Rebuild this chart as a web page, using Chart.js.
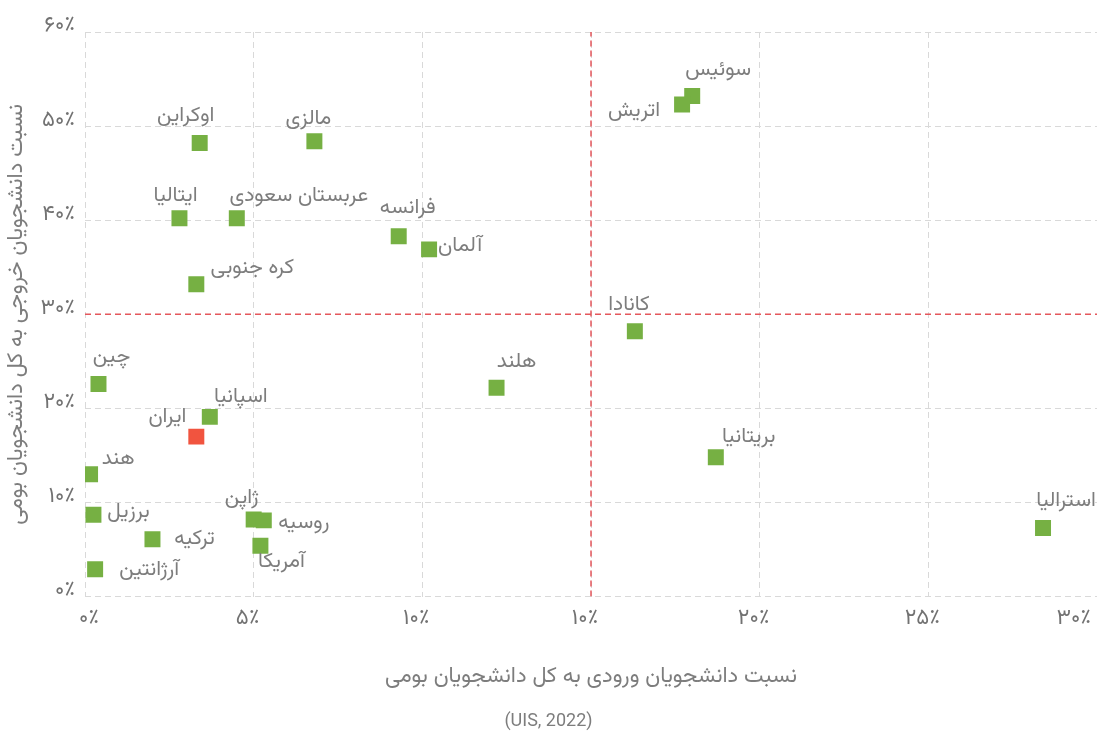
<!DOCTYPE html>
<html lang="fa">
<head>
<meta charset="utf-8">
<script src="https://cdn.jsdelivr.net/npm/chart.js@4.4.1/dist/chart.umd.min.js"></script>
<style>
  html, body { margin: 0; padding: 0; background: #ffffff; }
  #wrap { width: 1097px; height: 734px; }
</style>
</head>
<body>
<div id="wrap"><canvas id="chart" width="1097" height="734"></canvas></div>
<script>
// Countries and their student mobility ratios (percent of domestic students)
const countries = [
  'اوکراین', 'مالزی', 'ایتالیا', 'عربستان سعودی', 'کره جنوبی', 'فرانسه',
  'آلمان', 'سوئیس', 'اتریش', 'کانادا', 'هلند', 'بریتانیا', 'استرالیا',
  'چین', 'اسپانیا', 'ایران', 'هند', 'برزیل', 'ترکیه', 'آرژانتین',
  'ژاپن', 'روسیه', 'آمریکا'
];
// inbound students / domestic students (%)
const inboundShare = [
  3.4, 6.8, 2.8, 4.5, 3.3, 9.3,
  10.2, 18.0, 17.7, 16.3, 12.2, 18.7, 28.4,
  0.4, 3.7, 3.3, 0.15, 0.25, 2.0, 0.3,
  5.0, 5.3, 5.2
];
// outbound students / domestic students (%)
const outboundShare = [
  48.2, 48.4, 40.2, 40.2, 33.2, 38.3,
  36.9, 53.2, 52.3, 28.2, 22.2, 14.8, 7.3,
  22.6, 19.1, 17.0, 13.0, 8.7, 6.1, 2.9,
  8.2, 8.1, 5.4
];
const highlightedCountry = 'ایران';

const xTickLabels = ['۰٪', '۵٪', '۱۰٪', '۱۰٪', '۲۰٪', '۲۵٪', '۳۰٪'];
const yTickLabels = ['۰٪', '۱۰٪', '۲۰٪', '۳۰٪', '۴۰٪', '۵۰٪', '۶۰٪'];

const inboundThreshold = 15;
const outboundThreshold = 30;

// where each country name sits relative to its marker (dx, dy in px)
const nameShift = {
  'اوکراین': [-14, -25], 'مالزی': [-6, -20], 'ایتالیا': [-4, -21],
  'عربستان سعودی': [62, -21], 'کره جنوبی': [56, -14], 'فرانسه': [9, -26],
  'آلمان': [31, -2], 'سوئیس': [26, -24], 'اتریش': [-48, 8],
  'کانادا': [-6, -25], 'هلند': [20, -24], 'بریتانیا': [33, -19],
  'استرالیا': [23, -25], 'چین': [13, -25], 'اسپانیا': [31, -18],
  'ایران': [-29, -18], 'هند': [28, -14], 'برزیل': [35, -1],
  'ترکیه': [42, 2], 'آرژانتین': [54, 2], 'ژاپن': [-12, -20],
  'روسیه': [40, 4], 'آمریکا': [21, 18]
};

const FA_FONT = 'Vazirmatn, "DejaVu Sans", sans-serif';
const GREEN = '#76b043';
const RED = '#f1543f';
const TEXT_GREY = '#7d7d7d';

const points = countries.map((c, i) => ({ x: inboundShare[i], y: outboundShare[i] }));
const pointColors = countries.map(c => c === highlightedCountry ? RED : GREEN);

const countryNames = {
  id: 'countryNames',
  afterDatasetsDraw(chart) {
    const meta = chart.getDatasetMeta(0);
    const ctx = chart.ctx;
    ctx.save();
    ctx.font = '21px ' + FA_FONT;
    ctx.fillStyle = TEXT_GREY;
    ctx.textAlign = 'center';
    ctx.textBaseline = 'middle';
    meta.data.forEach((el, i) => {
      const s = nameShift[countries[i]] || [0, -22];
      ctx.fillText(countries[i], el.x + s[0], el.y + s[1]);
    });
    ctx.restore();
  }
};

const GRID_GREY = '#d9d9d9';

new Chart(document.getElementById('chart'), {
  type: 'scatter',
  data: {
    datasets: [
      {
        data: points,
        pointStyle: 'rect',
        pointRadius: 11.3,
        pointHoverRadius: 11.3,
        pointBorderWidth: 0,
        borderWidth: 0,
        backgroundColor: pointColors,
        pointBackgroundColor: pointColors,
        order: 0
      },
      {
        data: [{ x: inboundThreshold, y: 0 }, { x: inboundThreshold, y: 60 }],
        showLine: true,
        borderColor: '#e4575c',
        borderWidth: 1.5,
        borderDash: [6, 4],
        pointRadius: 0,
        order: 1
      },
      {
        data: [{ x: 0, y: outboundThreshold }, { x: 30, y: outboundThreshold }],
        showLine: true,
        borderColor: '#e4575c',
        borderWidth: 1.5,
        borderDash: [6, 4],
        pointRadius: 0,
        order: 1
      }
    ]
  },
  options: {
    responsive: false,
    devicePixelRatio: 1,
    animation: false,
    events: [],
    layout: { autoPadding: false, padding: { top: 32, right: 0, bottom: 2, left: 0 } },
    plugins: {
      legend: { display: false },
      tooltip: { enabled: false },
      subtitle: {
        display: true,
        position: 'bottom',
        text: '(UIS, 2022)',
        color: TEXT_GREY,
        font: { family: 'Roboto, sans-serif', size: 18, weight: 'normal' },
        padding: { top: 19, bottom: 0 }
      }
    },
    scales: {
      x: {
        type: 'linear',
        min: 0, max: 30,
        grid: {
          color: GRID_GREY, lineWidth: 1, borderDash: [6, 4],
          drawTicks: true, tickLength: 11, tickColor: 'rgba(0,0,0,0)'
        },
        border: { display: false, dash: [6, 4] },
        ticks: {
          stepSize: 5,
          padding: 0,
          align: 'inner',
          labelOffset: -6,
          color: '#727272',
          font: { family: FA_FONT, size: 22 },
          callback: (v) => xTickLabels[Math.round(v / 5)]
        },
        title: {
          display: true,
          text: 'نسبت دانشجویان ورودی به کل دانشجویان بومی',
          color: TEXT_GREY,
          font: { family: FA_FONT, size: 22 },
          padding: { top: 31, bottom: 0 }
        }
      },
      y: {
        type: 'linear',
        min: 0, max: 60,
        grid: { color: GRID_GREY, lineWidth: 1, borderDash: [6, 4], drawTicks: false },
        border: { display: false, dash: [6, 4] },
        afterFit: (scale) => { scale.width = 85; },
        ticks: {
          stepSize: 10,
          padding: 10,
          labelOffset: -4,
          color: '#727272',
          font: { family: FA_FONT, size: 22 },
          callback: (v) => yTickLabels[Math.round(v / 10)]
        },
        title: {
          display: true,
          text: 'نسبت دانشجویان خروجی به کل دانشجویان بومی',
          color: TEXT_GREY,
          font: { family: FA_FONT, size: 22 },
          padding: { top: 5, bottom: 0 }
        }
      }
    }
  },
  plugins: [countryNames]
});
</script>
</body>
</html>
